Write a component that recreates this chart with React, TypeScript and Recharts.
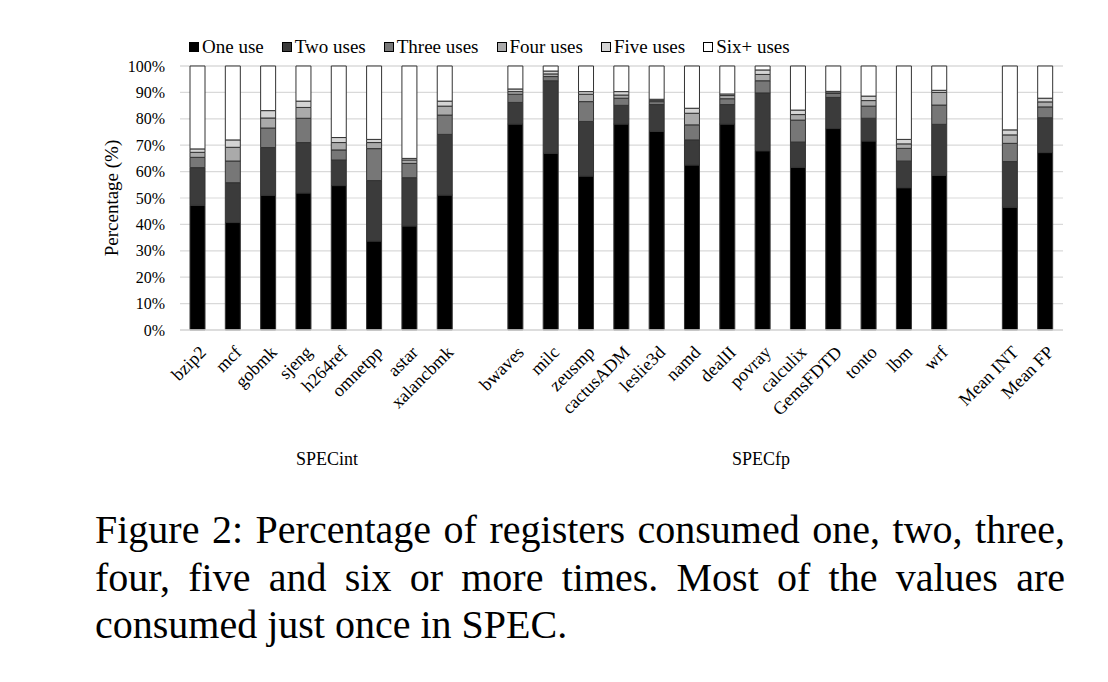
import React from "react";
import { BarChart, Bar, XAxis, YAxis, CartesianGrid } from "recharts";

const categories = ["bzip2","mcf","gobmk","sjeng","h264ref","omnetpp","astar","xalancbmk"," ","bwaves","milc","zeusmp","cactusADM","leslie3d","namd","dealII","povray","calculix","GemsFDTD","tonto","lbm","wrf","  ","Mean INT","Mean FP"];

const oneUse = [47.3,40.7,51.0,51.9,54.7,33.7,39.4,51.1,null,78.0,66.9,58.3,78.0,75.3,62.5,78.0,67.9,61.6,76.3,71.6,53.9,58.6,null,46.5,67.2];
const twoUses = [14.2,15.1,18.1,19.1,9.7,22.9,18.3,23.0,null,8.2,27.5,20.7,7.1,10.1,9.5,7.4,21.9,9.6,11.8,8.6,10.1,19.3,null,17.3,13.2];
const threeUses = [3.9,8.2,7.4,9.2,3.8,12.1,5.4,7.3,null,3.1,1.6,7.5,2.7,1.1,5.7,2.2,4.6,8.3,1.5,4.6,4.8,7.3,null,6.9,4.1];
const fourUses = [1.9,5.2,3.8,4.1,2.8,2.3,1.3,3.4,null,1.0,1.0,2.8,1.2,0.5,4.4,1.2,2.4,2.1,0.6,2.1,1.7,4.8,null,3.2,1.9];
const fiveUses = [1.3,2.8,2.8,2.4,1.9,1.2,0.6,1.9,null,1.0,1.1,1.0,1.3,0.4,1.9,0.6,1.7,1.7,0.2,1.7,1.7,0.8,null,1.9,1.4];
const sixUses = [31.4,28.0,16.9,13.3,27.1,27.8,35.0,13.3,null,8.7,1.9,9.7,9.7,12.6,16.0,10.6,1.5,16.7,9.6,11.4,27.8,9.2,null,24.2,12.2];

const yTicks = [0,10,20,30,40,50,60,70,80,90,100];

const seriesNames = ["One use","Two uses","Three uses","Four uses","Five uses","Six+ uses"];
const seriesKeys = ["one","two","three","four","five","six"];
const seriesColors = ["#000000","#3b3b3b","#777777","#aaaaaa","#d4d4d4","#ffffff"];

const groupLabels = ["SPECint","SPECfp"];
const caption = "Figure 2: Percentage of registers consumed one, two, three, four, five and six or more times. Most of the values are consumed just once in SPEC.";

const seriesValues = [oneUse, twoUses, threeUses, fourUses, fiveUses, sixUses];
const data = categories.map((name, i) => {
  const row: any = { name };
  seriesKeys.forEach((k, s) => {
    const v = seriesValues[s][i];
    if (v !== null) row[k] = v;
  });
  return row;
});

const FONT = '"Liberation Serif", "DejaVu Serif", serif';

const XTick = (props: any) => {
  const { x, y, payload } = props;
  const label = String(payload.value);
  if (!label.trim()) return null;
  const ax = x + 5;
  const ay = y + 11;
  return (
    <text x={ax} y={ay} dy="0.35em" transform={`rotate(-45 ${ax} ${ay})`} textAnchor="end" fontSize={18} fontFamily={FONT} fill="#000">
      {label}
    </text>
  );
};

const YLabel = (props: any) => {
  const vb = props.viewBox || { x: 0, y: 66, width: 180, height: 264 };
  const cx = 111;
  const cy = vb.y + vb.height / 2;
  return (
    <text x={cx} y={cy} dy="0.35em" transform={`rotate(-90 ${cx} ${cy})`} textAnchor="middle" fontSize={19} fontFamily={FONT} fill="#000">
      Percentage (%)
    </text>
  );
};

export default function App() {
  return (
    <div style={{ position: "absolute", left: 0, top: 0, width: 1108, height: 682, background: "#fff", fontFamily: FONT }}>
      <div style={{ position: "absolute", left: 189, top: 37, display: "flex", alignItems: "center", fontSize: 19, lineHeight: "20px", whiteSpace: "nowrap" }}>
        {seriesNames.map((n, i) => (
          <div key={n} style={{ display: "flex", alignItems: "center", marginRight: 18 }}>
            <span style={{ display: "inline-block", width: 8, height: 8, background: seriesColors[i], border: "1.5px solid #000", marginRight: 3 }} />
            <span>{n}</span>
          </div>
        ))}
      </div>
      <BarChart width={1108} height={490} data={data} margin={{ top: 66, right: 45, left: 0, bottom: 40 }} barSize={15}>
        <CartesianGrid vertical={false} stroke="#d9d9d9" strokeWidth={1.2} />
        <XAxis dataKey="name" interval={0} height={120} tick={<XTick />} tickLine={false} axisLine={{ stroke: "#d9d9d9", strokeWidth: 1.5 }} />
        <YAxis width={180} domain={[0, 100]} ticks={yTicks} tickFormatter={(v: number) => `${v}%`} axisLine={false} tickLine={false} tickMargin={9} tick={{ fontSize: 16, fontFamily: FONT, fill: "#000" }} label={<YLabel />} />
        {seriesKeys.map((k, i) => (
          <Bar key={k} dataKey={k} name={seriesNames[i]} stackId="a" fill={seriesColors[i]} stroke="#333333" strokeWidth={1} isAnimationActive={false} />
        ))}
      </BarChart>
      <div style={{ position: "absolute", left: 290, top: 449, width: 74, textAlign: "center", fontSize: 18, whiteSpace: "nowrap" }}>{groupLabels[0]}</div>
      <div style={{ position: "absolute", left: 724, top: 449, width: 74, textAlign: "center", fontSize: 18, whiteSpace: "nowrap" }}>{groupLabels[1]}</div>
      <div style={{ position: "absolute", left: 95, top: 506, width: 970, fontSize: 40, lineHeight: "47.5px", textAlign: "justify", color: "#000" }}>{caption}</div>
    </div>
  );
}
